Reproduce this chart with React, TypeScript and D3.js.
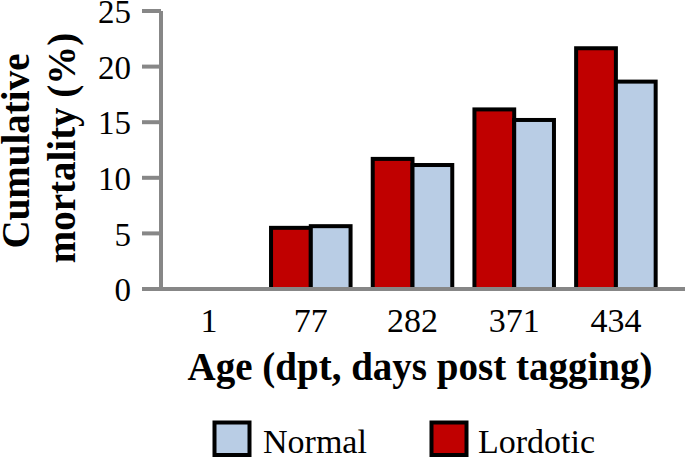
import * as d3 from "d3";
import React from "react";

// age in days post tagging
const ages = ["1", "77", "282", "371", "434"];
const lordotic = [0, 5.5, 11.7, 16.15, 21.65];
const normal = [0, 5.65, 11.15, 15.2, 18.65];
const seriesNames = ["Lordotic", "Normal"];
const yTicks = [0, 5, 10, 15, 20, 25];

const W = 685;
const H = 459;
const FONT = "Liberation Serif, Tinos, Times New Roman, DejaVu Serif, serif";
const colors: Record<string, string> = { Lordotic: "#C00000", Normal: "#B9CDE5" };
const axisGray = "#878787";

const App = () => {
  const x = d3.scaleBand<string>()
    .domain(ages)
    .range([161, 664])
    .paddingInner(0.218)
    .paddingOuter(0.082);
  const xInner = d3.scaleBand<string>()
    .domain(seriesNames)
    .range([0, x.bandwidth()]);
  const y = d3.scaleLinear().domain([0, 25]).range([289, 11]);

  const values: Record<string, number[]> = { Lordotic: lordotic, Normal: normal };
  const bars = ages.flatMap((age, i) =>
    seriesNames.map(s => ({ age, series: s, value: values[s][i] }))
  ).filter(d => d.value > 0);

  return (
    <svg width={W} height={H}
      style={{ position: "absolute", left: 0, top: 0, background: "#fff", fontFamily: FONT }}>
      {/* y axis */}
      <line x1={161} x2={161} y1={y(25)} y2={y(0)} stroke={axisGray} strokeWidth={4} />
      {yTicks.map(t => (
        <g key={t}>
          <line x1={142} x2={161} y1={y(t)} y2={y(t)} stroke={axisGray} strokeWidth={4} />
          <text x={131} y={y(t)} dy="0.37em" textAnchor="end" fontSize={33} fill="#000">
            {t}
          </text>
        </g>
      ))}

      {/* bars */}
      {bars.map(d => (
        <rect
          key={d.age + d.series}
          x={(x(d.age) ?? 0) + (xInner(d.series) ?? 0)}
          y={y(d.value)}
          width={xInner.bandwidth()}
          height={y(0) - y(d.value)}
          fill={colors[d.series]}
          stroke="#000"
          strokeWidth={4}
        />
      ))}

      {/* x axis */}
      <line x1={159} x2={W} y1={y(0)} y2={y(0)} stroke={axisGray} strokeWidth={4} />
      {ages.map(a => (
        <text key={a} x={(x(a) ?? 0) + x.bandwidth() / 2} y={332} textAnchor="middle"
          fontSize={34} fill="#000">
          {a}
        </text>
      ))}
      <text x={420} y={380} textAnchor="middle" fontSize={39} fontWeight="bold" fill="#000">
        Age (dpt, days post tagging)
      </text>

      {/* y title */}
      <g transform="translate(29,151) rotate(-90)">
        <text x={0} y={0} textAnchor="middle" fontSize={39} fontWeight="bold" fill="#000">
          Cumulative
        </text>
      </g>
      <g transform="translate(75,148) rotate(-90)">
        <text x={0} y={0} textAnchor="middle" fontSize={39} fontWeight="bold" fill="#000">
          mortality (%)
        </text>
      </g>

      {/* legend */}
      {[
        { name: "Normal", sx: 214.5, tx: 263 },
        { name: "Lordotic", sx: 431.5, tx: 478 },
      ].map(l => (
        <g key={l.name}>
          <rect x={l.sx} y={422.5} width={35} height={32.5} fill={colors[l.name]} stroke="#000" strokeWidth={4} />
          <text x={l.tx} y={453} fontSize={34} fill="#000">
            {l.name}
          </text>
        </g>
      ))}
    </svg>
  );
};

export default App;
